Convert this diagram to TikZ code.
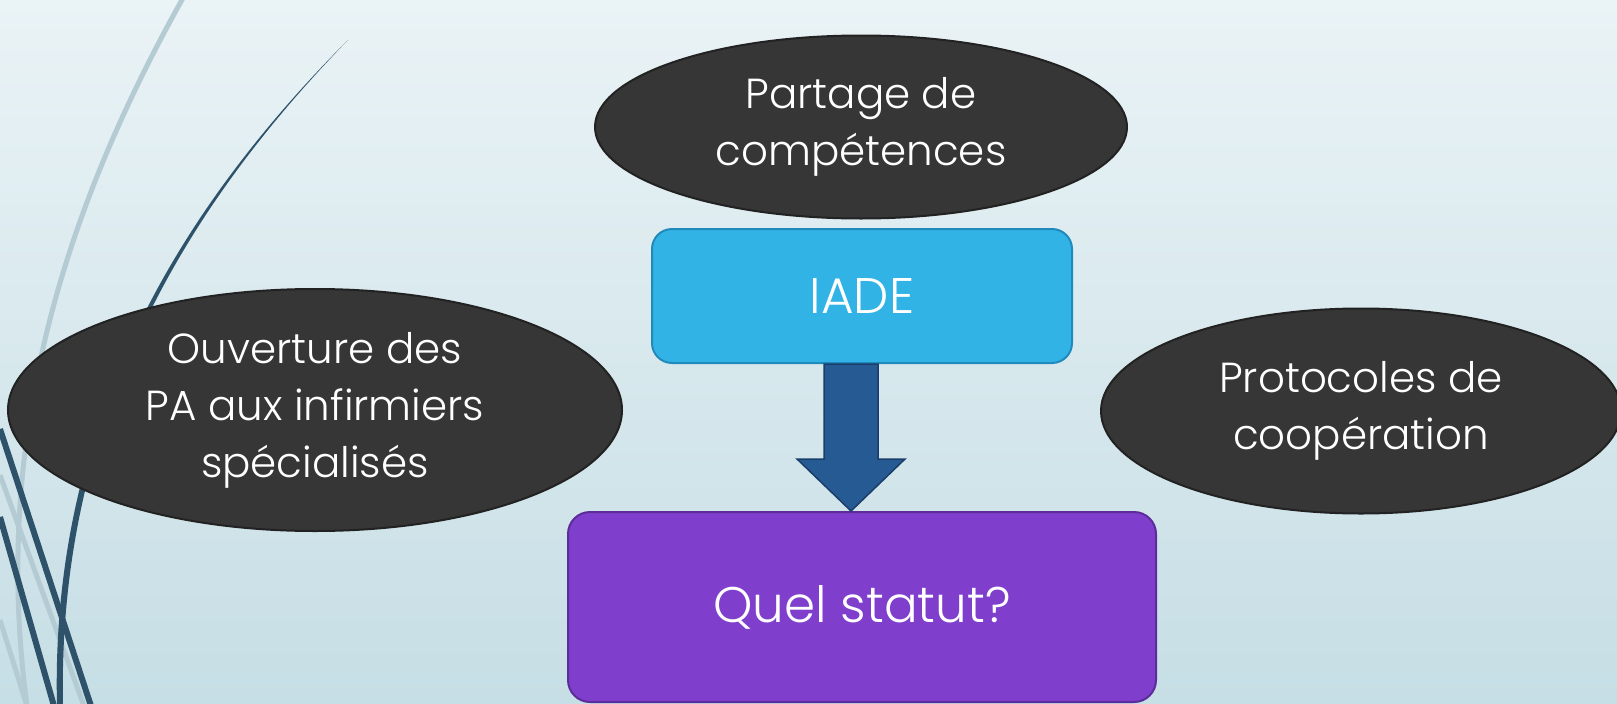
\documentclass[tikz,border=0pt]{standalone}
\usepackage{fontspec}
\setmainfont{Poppins}[UprightFont=* Light]
\usepackage{tikz}
\usetikzlibrary{shapes.geometric,calc}
\definecolor{bgtop}{RGB}{234,243,246}
\definecolor{bgbottom}{RGB}{198,222,229}
\definecolor{ideafill}{RGB}{54,54,54}
\definecolor{ideaedge}{RGB}{34,34,34}
\definecolor{iadefill}{RGB}{50,179,229}
\definecolor{iadeedge}{RGB}{33,138,188}
\definecolor{statutfill}{RGB}{127,63,204}
\definecolor{statutedge}{RGB}{92,44,155}
\definecolor{arrowfill}{RGB}{38,90,146}
\definecolor{arrowedge}{RGB}{26,62,106}
\definecolor{decodark}{RGB}{45,82,106}
\definecolor{decolight}{RGB}{180,203,212}
\newcommand{\ideafont}{\fontsize{42}{57}\selectfont}
\newcommand{\boxfont}{\fontsize{50}{60}\selectfont}
\tikzstyle{idea_ellipse}=[ellipse,fill=ideafill,draw=ideaedge,line width=2pt,inner sep=0pt,text=white,align=center,font=\ideafont]
\tikzstyle{iade_box}=[rectangle,rounded corners=20pt,fill=iadefill,draw=iadeedge,line width=2pt,text=white,font=\boxfont]
\tikzstyle{statut_box}=[rectangle,rounded corners=22pt,fill=statutfill,draw=statutedge,line width=2pt,text=white,font=\boxfont]
\tikzstyle{flow_arrow}=[fill=arrowfill,draw=arrowedge,line width=1.5pt,line join=miter]
\tikzstyle{deco_dark}=[draw=decodark,line width=6pt]
\tikzstyle{deco_light}=[draw=decolight,line width=5pt]

\begin{document}
\begin{tikzpicture}[x=1pt,y=-1pt]

  \shade[top color=bgtop,bottom color=bgbottom] (0,0) rectangle (1617,704);
  \useasboundingbox (0,0) rectangle (1617,704);

  \draw[deco_light] (183,-2) .. controls (70,200) and (-10,430) .. (27,706);
  \draw[deco_light] (0,475) -- (84,706);
  \draw[deco_light] (0,620) -- (27,706);
  \draw[deco_dark] (0,429) -- (91,706);
  \draw[deco_dark] (0,517) -- (54,706);
  \fill[decodark] (348,40) .. controls (180,208) and (50,420) .. (57,706)
    -- (63,706) .. controls (57,420) and (183,210) .. (348,40) -- cycle;

  \node[idea_ellipse,minimum width=532pt,minimum height=183pt] (partage) at (861,127) {Partage de\\compétences};
  \node[idea_ellipse,minimum width=614pt,minimum height=242pt] (ouverture) at (315,410) {Ouverture des\\PA aux infirmiers\\spécialisés};
  \node[idea_ellipse,minimum width=520pt,minimum height=205pt] (protocoles) at (1361,411) {Protocoles de\\coopération};

  \node[iade_box,minimum width=420pt,minimum height=134pt] (iade) at (862,296) {IADE};
  \node[statut_box,minimum width=588pt,minimum height=190pt] (statut) at (862,607) {Quel statut?};

  \coordinate (arrow_x) at (851,0);
  \coordinate (tip) at (statut.north -| arrow_x);
  \draw[flow_arrow] ($(iade.south -| arrow_x)+(-27,0)$) -- ($(tip)+(-27,-52)$) -- ($(tip)+(-54,-52)$)
    -- (tip) -- ($(tip)+(54,-52)$) -- ($(tip)+(27,-52)$) -- ($(iade.south -| arrow_x)+(27,0)$) -- cycle;
\end{tikzpicture}
\end{document}
